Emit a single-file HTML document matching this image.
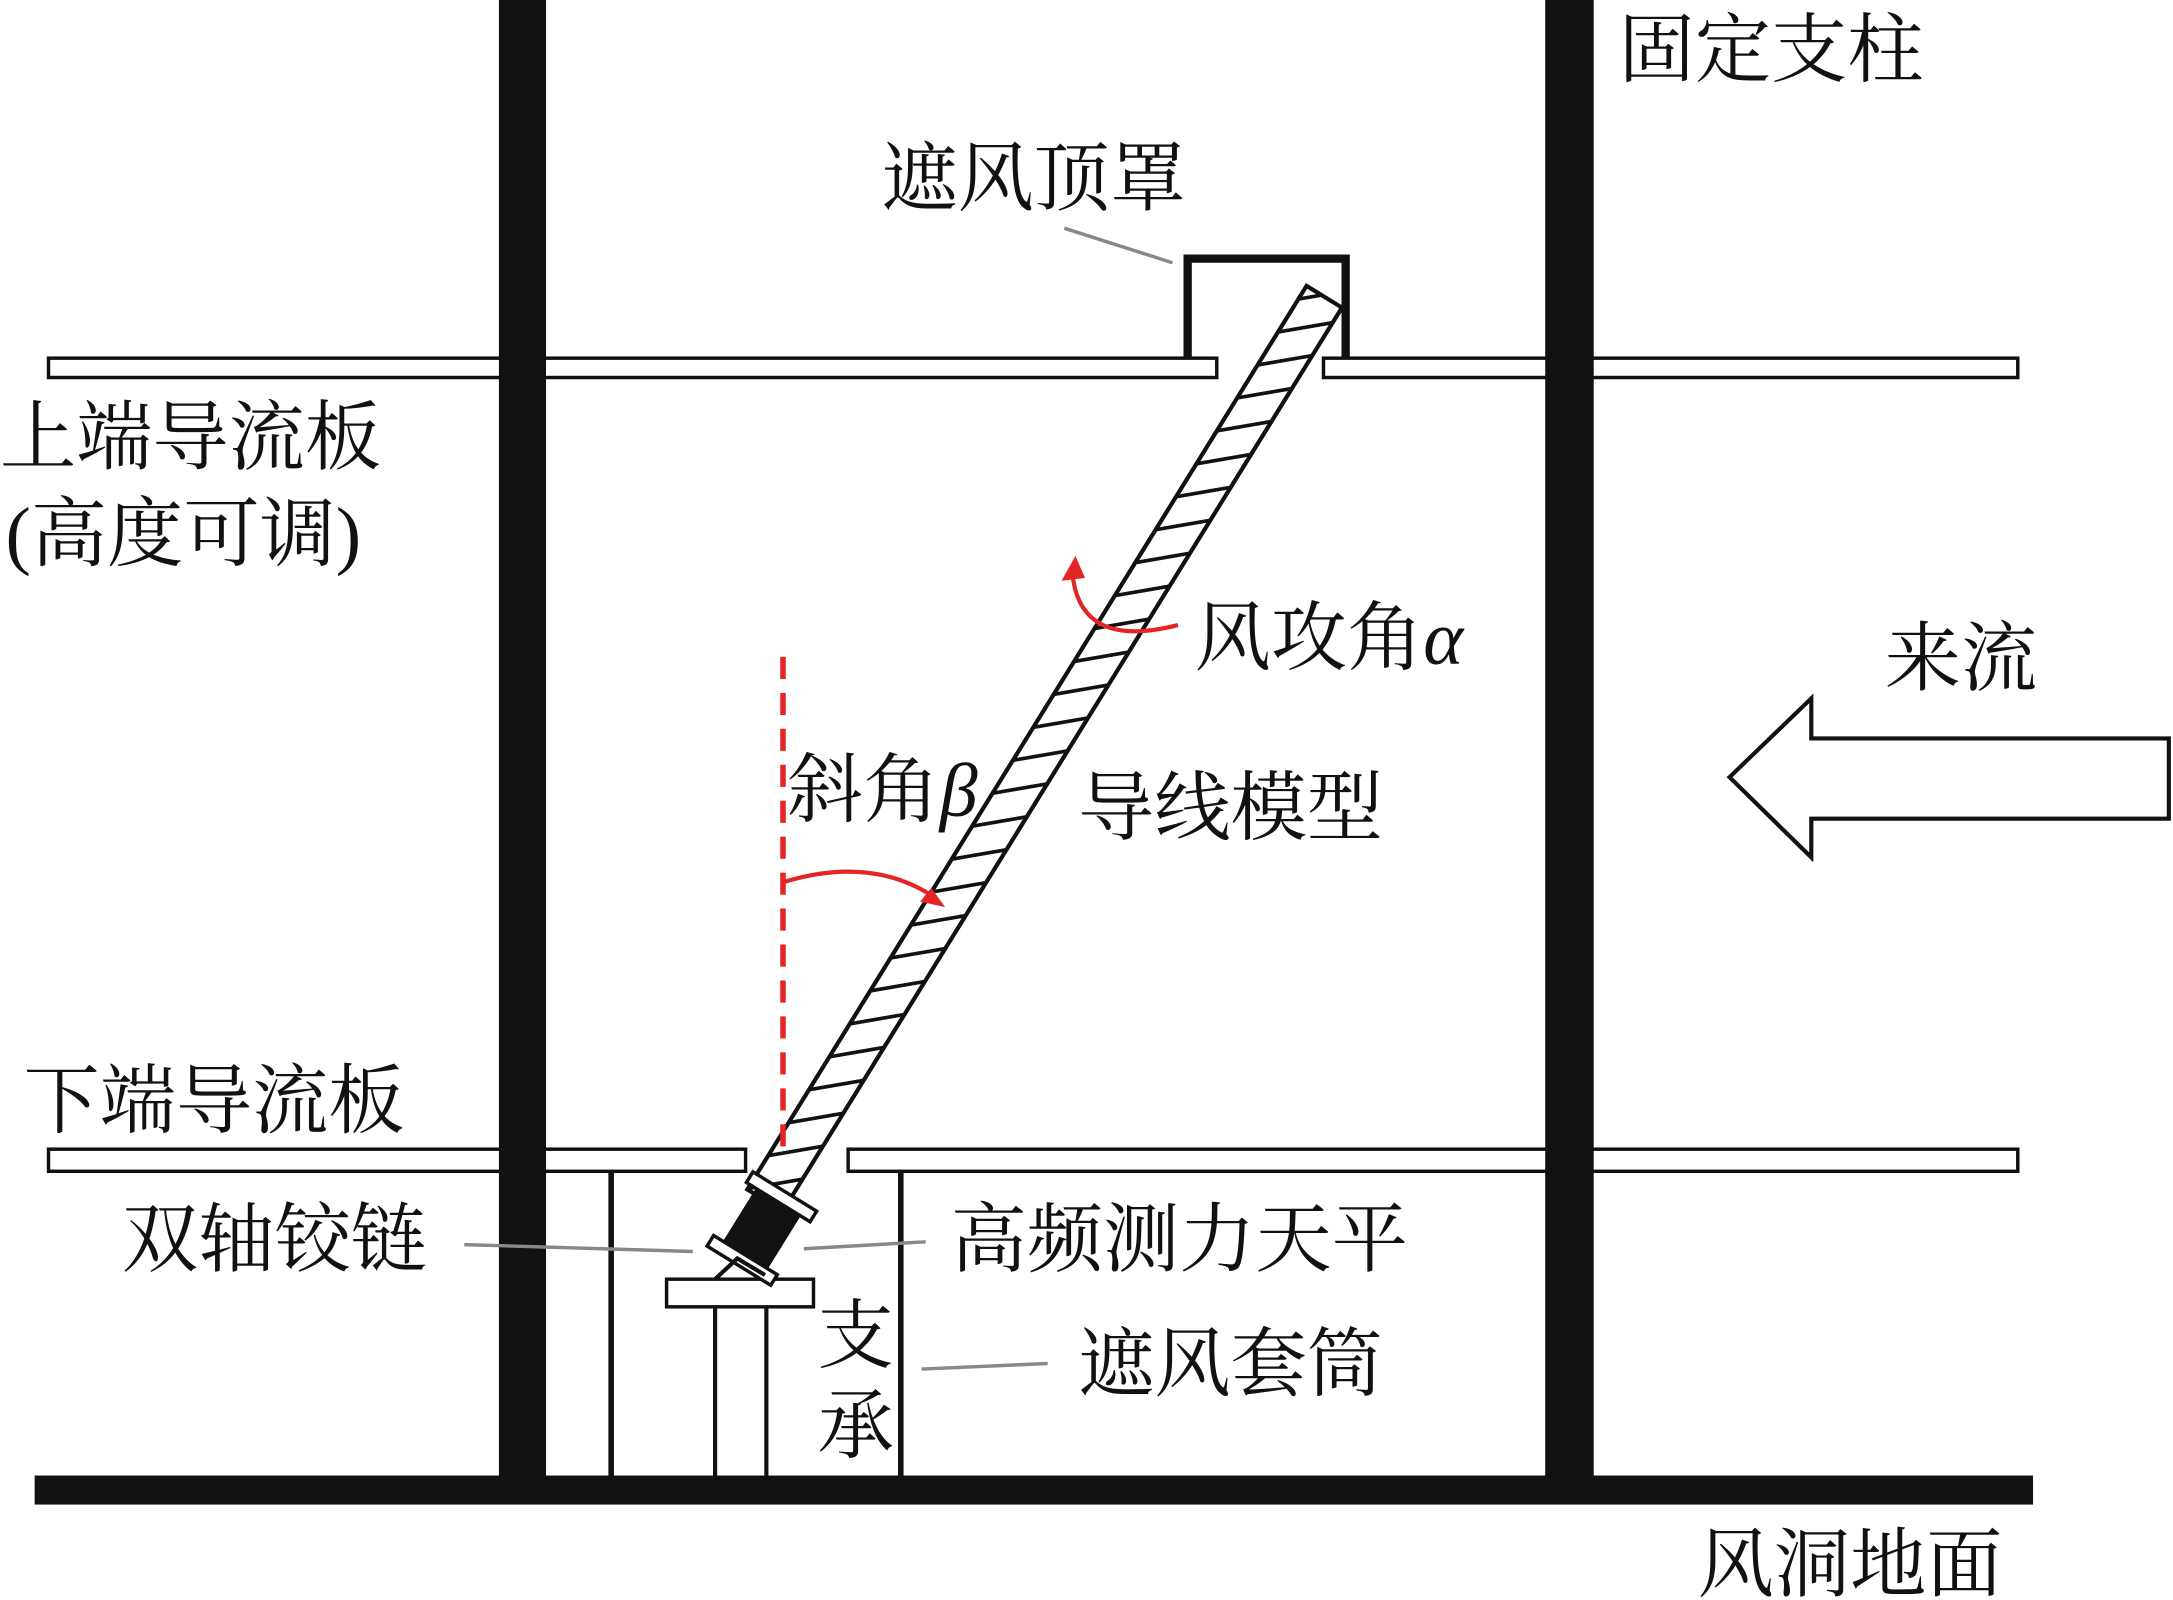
<!DOCTYPE html>
<html><head><meta charset="utf-8"><style>
html,body{margin:0;padding:0;background:#fff;}
svg{display:block}
text{font-family:"Liberation Serif","Noto Serif CJK SC",serif;font-size:55px;fill:#111;}
</style></head><body>
<svg width="2173" height="1600" viewBox="0 0 1568 1157" preserveAspectRatio="none" xmlns="http://www.w3.org/2000/svg">
<defs>
<pattern id="hatch" patternUnits="userSpaceOnUse" width="28" height="32" y="-16" patternTransform="skewX(41.5)">
<line x1="14" y1="0" x2="14" y2="32" stroke="#111" stroke-width="3.5"/>
</pattern>
</defs>
<!-- upper plates -->
<rect x="35" y="259" width="843" height="14" fill="#fff" stroke="#111" stroke-width="2.5"/>
<rect x="955" y="259" width="501" height="14" fill="#fff" stroke="#111" stroke-width="2.5"/>
<!-- hood -->
<path d="M857 260 V187 H971 V260" fill="none" stroke="#111" stroke-width="6"/>
<!-- lower plates -->
<rect x="35" y="831" width="503" height="16" fill="#fff" stroke="#111" stroke-width="2.5"/>
<rect x="612" y="831" width="844" height="16" fill="#fff" stroke="#111" stroke-width="2.5"/>
<!-- columns -->
<rect x="360" y="0" width="34" height="1075" fill="#111"/>
<rect x="1115" y="0" width="35" height="1075" fill="#111"/>
<!-- floor -->
<rect x="25" y="1067" width="1442" height="21" fill="#111"/>
<!-- supports -->
<line x1="441" y1="847" x2="441" y2="1068" stroke="#111" stroke-width="4"/>
<line x1="650" y1="847" x2="650" y2="1068" stroke="#111" stroke-width="4"/>
<rect x="481" y="925" width="106" height="20" fill="#fff" stroke="#111" stroke-width="2.5"/>
<line x1="516" y1="945" x2="516" y2="1068" stroke="#111" stroke-width="3"/>
<line x1="553" y1="945" x2="553" y2="1068" stroke="#111" stroke-width="3"/>
<!-- conductor -->
<g transform="translate(552,868) rotate(-58.3)">
<rect x="0" y="-15" width="768" height="30" fill="url(#hatch)" stroke="#111" stroke-width="3"/>
</g>
<!-- balance -->
<g transform="translate(550,888) rotate(-58.3)">
<rect x="-24" y="-19" width="48" height="38" fill="#111"/>
<rect x="22" y="-27" width="9" height="54" fill="#fff" stroke="#111" stroke-width="2.5"/>
<rect x="-32" y="-27" width="9" height="54" fill="#fff" stroke="#111" stroke-width="2.5"/>
</g>
<path d="M516 925 L532 910 L552 922" fill="none" stroke="#111" stroke-width="3"/>
<!-- red dashed -->
<line x1="565" y1="475" x2="565" y2="830" stroke="#e52525" stroke-width="4" stroke-dasharray="16,10"/>
<path d="M565 638 Q630 618 676 650" fill="none" stroke="#e52525" stroke-width="3"/>
<path d="M682 656 L664 652 L672 642 Z" fill="#e52525"/>
<path d="M774 416 Q780 470 850 452" fill="none" stroke="#e52525" stroke-width="3"/>
<path d="M776 402 L766 420 L783 418 Z" fill="#e52525"/>
<!-- inflow arrow -->
<path d="M1248 562 L1307 505 L1307 534 L1565 534 L1565 592 L1307 592 L1307 620 Z" fill="#fff" stroke="#111" stroke-width="3"/>
<!-- leaders -->
<g stroke="#888" stroke-width="2.5">
<line x1="768" y1="165" x2="846" y2="190"/>
<line x1="335" y1="900" x2="500" y2="905"/>
<line x1="580" y1="903" x2="668" y2="898"/>
<line x1="665" y1="990" x2="756" y2="986"/>
</g>
<!-- texts -->
<text x="1168" y="55">固定支柱</text>
<text x="636" y="148">遮风顶罩</text>
<text x="0" y="335">上端导流板</text>
<text x="4" y="405">(高度可调)</text>
<text x="862" y="480">风攻角<tspan font-style="italic">α</tspan></text>
<text x="1360" y="495">来流</text>
<text x="568" y="590">斜角<tspan font-style="italic">β</tspan></text>
<text x="778" y="603">导线模型</text>
<text x="17" y="815">下端导流板</text>
<text x="88" y="915">双轴铰链</text>
<text x="686" y="915">高频测力天平</text>
<text x="590" y="985">支</text>
<text x="590" y="1050">承</text>
<text x="778" y="1005">遮风套筒</text>
<text x="1225" y="1150">风洞地面</text>
</svg>
</body></html>
